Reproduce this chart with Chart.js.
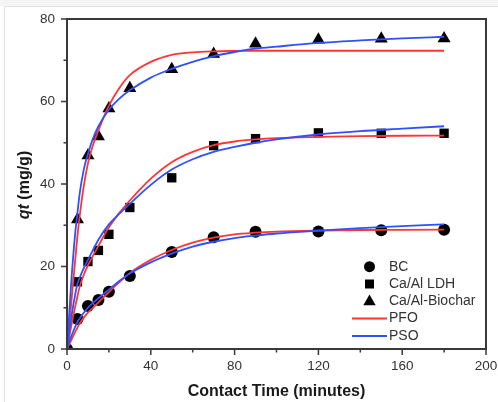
<!DOCTYPE html>
<html><head><meta charset="utf-8">
<script src="https://cdn.jsdelivr.net/npm/chart.js@4/dist/chart.umd.min.js"></script>
<style>html,body{margin:0;padding:0;background:#fff}#wrap{position:relative;width:498px;height:402px}</style>
</head><body><div id="wrap"><canvas id="c" width="498" height="402"></canvas></div>
<script>
// ---- measured data ----
const bcTime = [0, 5, 10, 15, 20, 30, 50, 70, 90, 120, 150, 180];
const bcValues = [0, 7.3, 10.4, 11.9, 13.9, 17.7, 23.5, 27.1, 28.4, 28.5, 28.8, 28.9];
const ldhTime = [5, 10, 15, 20, 30, 50, 70, 90, 120, 150, 180];
const ldhValues = [16.3, 21.2, 23.9, 27.8, 34.3, 41.5, 49.3, 51.0, 52.4, 52.3, 52.3];
const biocharTime = [5, 10, 15, 20, 30, 50, 70, 90, 120, 150, 180];
const biocharValues = [31.4, 46.9, 51.5, 58.3, 63.2, 67.8, 71.5, 74.0, 75.0, 75.2, 75.3];

// ---- fitted curves ----
const curveTime = [0, 2, 4, 5, 6, 8, 10, 12, 15, 20, 25, 30, 40, 50, 60, 70, 80, 90, 100, 120, 140, 160, 180];
const biocharPFO = [0, 11, 22, 27.5, 32, 39.5, 45, 48.8, 53, 59, 63.3, 66.4, 69.6, 71.3, 71.9, 72.15, 72.25, 72.3, 72.3, 72.3, 72.3, 72.3, 72.3];
const biocharPSO = [0, 16, 28.5, 33, 37.5, 43.5, 47.3, 50.5, 54, 58, 60.7, 62.7, 65.8, 67.9, 69.6, 71, 72, 72.8, 73.3, 74.2, 74.8, 75.3, 75.7];
const ldhPFO = [0, 5.5, 10.5, 12.8, 15, 18, 20.3, 22.2, 25, 29.5, 33, 36, 41.3, 45.3, 47.8, 49.4, 50.3, 50.8, 51.1, 51.4, 51.6, 51.7, 51.75];
const ldhPSO = [0, 7.5, 13.5, 15.8, 17.2, 19.6, 21.6, 23.6, 26.5, 30.2, 32.8, 35.2, 39.8, 43.5, 46, 47.8, 49, 50, 50.8, 52, 52.8, 53.4, 54];
const bcPFO = [0, 2.1, 4.2, 5.2, 6.1, 7.6, 8.8, 9.8, 11.3, 13.8, 16.2, 18.4, 21.6, 24, 25.8, 27, 27.8, 28.2, 28.45, 28.7, 28.85, 28.9, 28.95];
const bcPSO = [0, 3, 5.5, 6.6, 7.4, 8.8, 10, 11, 12.3, 14.4, 16.5, 18.3, 21, 23.1, 24.8, 26, 26.9, 27.5, 28, 28.7, 29.3, 29.8, 30.2];

const xMajorTicks = [0, 40, 80, 120, 160, 200];
const xMinorTicks = [20, 60, 100, 140, 180];
const yMajorTicks = [0, 20, 40, 60, 80];
const yMinorTicks = [10, 30, 50, 70];

const legendLabels = ['BC', 'Ca/Al LDH', 'Ca/Al-Biochar', 'PFO', 'PSO'];

const RED = '#ff3535';
const BLUE = '#3050ff';
const FONT = "'Liberation Sans', Arial, Helvetica, sans-serif";

const pts = (xs, ys) => xs.map((x, i) => ({x: x, y: ys[i]}));
const curve = (ys, color) => ({
  data: pts(curveTime, ys), showLine: true, pointRadius: 0, borderColor: color,
  borderWidth: 1.8, cubicInterpolationMode: 'monotone', fill: false
});
const marks = (xs, ys, style, r) => ({
  data: pts(xs, ys), showLine: false, pointStyle: style, pointRadius: r,
  backgroundColor: '#000', borderColor: '#000', borderWidth: 0, clip: 0
});

const decor = {
  id: 'decor',
  beforeDraw(chart) {
    const ctx = chart.ctx;
    ctx.save();
    ctx.fillStyle = '#fff';
    ctx.fillRect(0, 0, chart.width, chart.height);
    ctx.fillStyle = '#f5f5f5';
    ctx.fillRect(0, 0, chart.width, 6);
    ctx.strokeStyle = '#e2e2e2';
    ctx.lineWidth = 1;
    ctx.beginPath();
    ctx.moveTo(4.5, 402); ctx.lineTo(4.5, 6.5); ctx.lineTo(498, 6.5);
    ctx.stroke();
    ctx.restore();
  },
  afterDatasetsDraw(chart) {
    const ctx = chart.ctx, a = chart.chartArea;
    const xs = chart.scales.x, ys = chart.scales.y;
    ctx.save();
    ctx.strokeStyle = '#3a3a3a';
    ctx.lineWidth = 1.5;
    ctx.beginPath();
    xMajorTicks.forEach(v => { const p = xs.getPixelForValue(v); ctx.moveTo(p, a.bottom); ctx.lineTo(p, a.bottom + 6); });
    xMinorTicks.forEach(v => { const p = xs.getPixelForValue(v); ctx.moveTo(p, a.bottom); ctx.lineTo(p, a.bottom + 3.5); });
    yMajorTicks.forEach(v => { const p = ys.getPixelForValue(v); ctx.moveTo(a.left, p); ctx.lineTo(a.left - 6, p); });
    yMinorTicks.forEach(v => { const p = ys.getPixelForValue(v); ctx.moveTo(a.left, p); ctx.lineTo(a.left - 3.5, p); });
    ctx.stroke();
    ctx.lineWidth = 2;
    ctx.strokeRect(a.left, a.top, a.right - a.left, a.bottom - a.top);

    // axis titles
    ctx.fillStyle = '#1a1a1a';
    ctx.textBaseline = 'middle';
    ctx.font = 'bold 16px ' + FONT;
    ctx.textAlign = 'center';
    ctx.fillText('Contact Time (minutes)', (a.left + a.right) / 2, 392);

    ctx.save();
    ctx.translate(25, (a.top + a.bottom) / 2 + 1);
    ctx.rotate(-Math.PI / 2);
    ctx.textAlign = 'left';
    const f1 = 'italic bold 16px ' + FONT, f2 = 'bold 16px ' + FONT;
    ctx.font = f1; const w1 = ctx.measureText('qt').width;
    ctx.font = f2; const w2 = ctx.measureText(' (mg/g)').width;
    const start = -(w1 + w2) / 2;
    ctx.font = f1; ctx.fillText('qt', start, 0);
    ctx.font = f2; ctx.fillText(' (mg/g)', start + w1, 0);
    ctx.restore();

    // legend
    const mx = 369.5, tx = 389;
    const rows = [266.7, 284, 301, 318.5, 336];
    ctx.fillStyle = '#000';
    ctx.beginPath(); ctx.arc(mx, rows[0], 5.5, 0, Math.PI * 2); ctx.fill();
    ctx.fillRect(mx - 4.5, rows[1] - 4.5, 9, 9);
    ctx.beginPath();
    ctx.moveTo(mx, rows[2] - 6.5); ctx.lineTo(mx + 6.2, rows[2] + 4.2); ctx.lineTo(mx - 6.2, rows[2] + 4.2); ctx.closePath(); ctx.fill();
    ctx.lineWidth = 1.8;
    ctx.strokeStyle = RED;
    ctx.beginPath(); ctx.moveTo(352, rows[3]); ctx.lineTo(387, rows[3]); ctx.stroke();
    ctx.strokeStyle = BLUE;
    ctx.beginPath(); ctx.moveTo(352, rows[4]); ctx.lineTo(387, rows[4]); ctx.stroke();
    ctx.fillStyle = '#333';
    ctx.font = '14px ' + FONT;
    ctx.textAlign = 'left';
    legendLabels.forEach((t, i) => ctx.fillText(t, tx, rows[i]));
    ctx.restore();
  }
};

new Chart(document.getElementById('c'), {
  type: 'scatter',
  data: {
    datasets: [
      curve(biocharPSO, BLUE), curve(ldhPSO, BLUE), curve(bcPSO, BLUE),
      curve(biocharPFO, RED), curve(ldhPFO, RED), curve(bcPFO, RED),
      marks(bcTime, bcValues, 'circle', 6),
      marks(ldhTime, ldhValues, 'rect', 6.6),
      marks(biocharTime, biocharValues, 'triangle', 7.5)
    ]
  },
  options: {
    responsive: false, animation: false, devicePixelRatio: 1,
    layout: { padding: { top: 19, right: 12, left: 0, bottom: 0 } },
    plugins: { legend: { display: false }, tooltip: { enabled: false } },
    scales: {
      x: {
        type: 'linear', min: 0, max: 200,
        afterBuildTicks: s => { s.ticks = xMajorTicks.map(v => ({value: v})); },
        afterFit: s => { s.height = 53; s.paddingLeft = 0; s.paddingRight = 0; },
        grid: { display: false, drawTicks: false },
        border: { display: false },
        ticks: { color: '#333', padding: 9, maxRotation: 0, font: { family: FONT, size: 13.5 } }
      },
      y: {
        type: 'linear', min: 0, max: 80,
        afterBuildTicks: s => { s.ticks = yMajorTicks.map(v => ({value: v})); },
        afterFit: s => { s.width = 67; s.paddingTop = 0; s.paddingBottom = 0; },
        grid: { display: false, drawTicks: false },
        border: { display: false },
        ticks: { color: '#333', padding: 12, font: { family: FONT, size: 13.5 } }
      }
    }
  },
  plugins: [decor]
});
</script></body></html>
